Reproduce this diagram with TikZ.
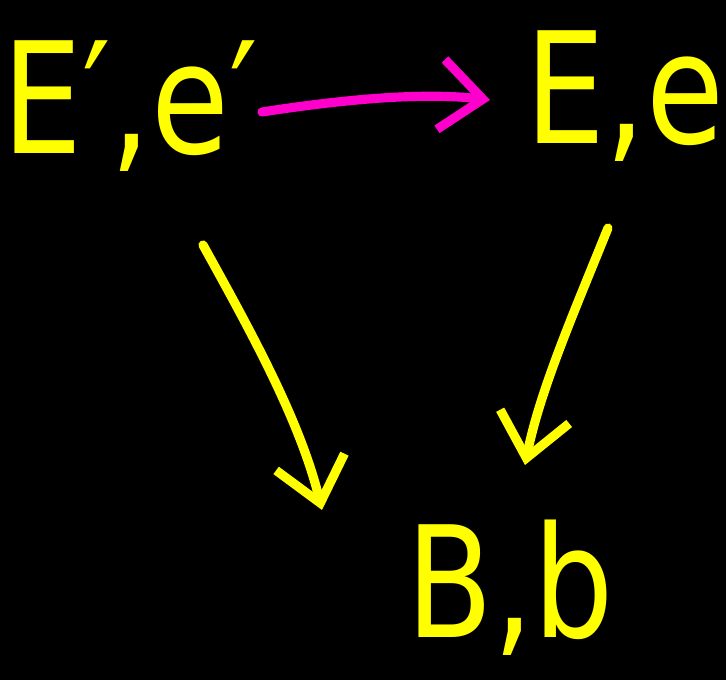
\documentclass[tikz,border=0pt]{standalone}
\usepackage{fontspec}
\setmainfont{DejaVu Sans}
\usetikzlibrary{arrows.meta}
\definecolor{hyellow}{HTML}{FFFF00}
\definecolor{hmagenta}{HTML}{FF00CC}
\newcommand{\hw}[1]{\scalebox{0.9}[1.1]{\fontsize{40}{40}\selectfont #1}}
\tikzset{
  lbl/.style={text=hyellow, inner sep=0pt},
  yarrow/.style={draw=hyellow, line width=2.6pt, line cap=round, -{Straight Barb[length=12pt,width=20pt,line width=2.6pt]}},
  marrow/.style={draw=hmagenta, line width=2.6pt, line cap=round, -{Straight Barb[length=12pt,width=20pt,line width=2.6pt]}}
}
\begin{document}
\begin{tikzpicture}[x=0.01cm,y=-0.01cm]
\fill[black] (0,0) rectangle (726,680);
\useasboundingbox (0,0) rectangle (726,680);
\node[lbl] (Ep) at (130,106) {\hw{E′,e′}};
\node[lbl] (E) at (625,96) {\hw{E,e}};
\node[lbl] (B) at (510,588) {\hw{B,b}};
\coordinate (m1) at (262,112);
\coordinate (m2) at (490,100);
\coordinate (l1) at (203,245);
\coordinate (l2) at (322,510);
\coordinate (r1) at (608,228);
\coordinate (r2) at (525,465);
\draw[marrow] (m1) .. controls (340,100) and (420,92) .. (m2);
\draw[yarrow] (l1) .. controls (250,330) and (300,420) .. (l2);
\draw[yarrow] (r1) .. controls (575,310) and (540,390) .. (r2);
\end{tikzpicture}
\end{document}
